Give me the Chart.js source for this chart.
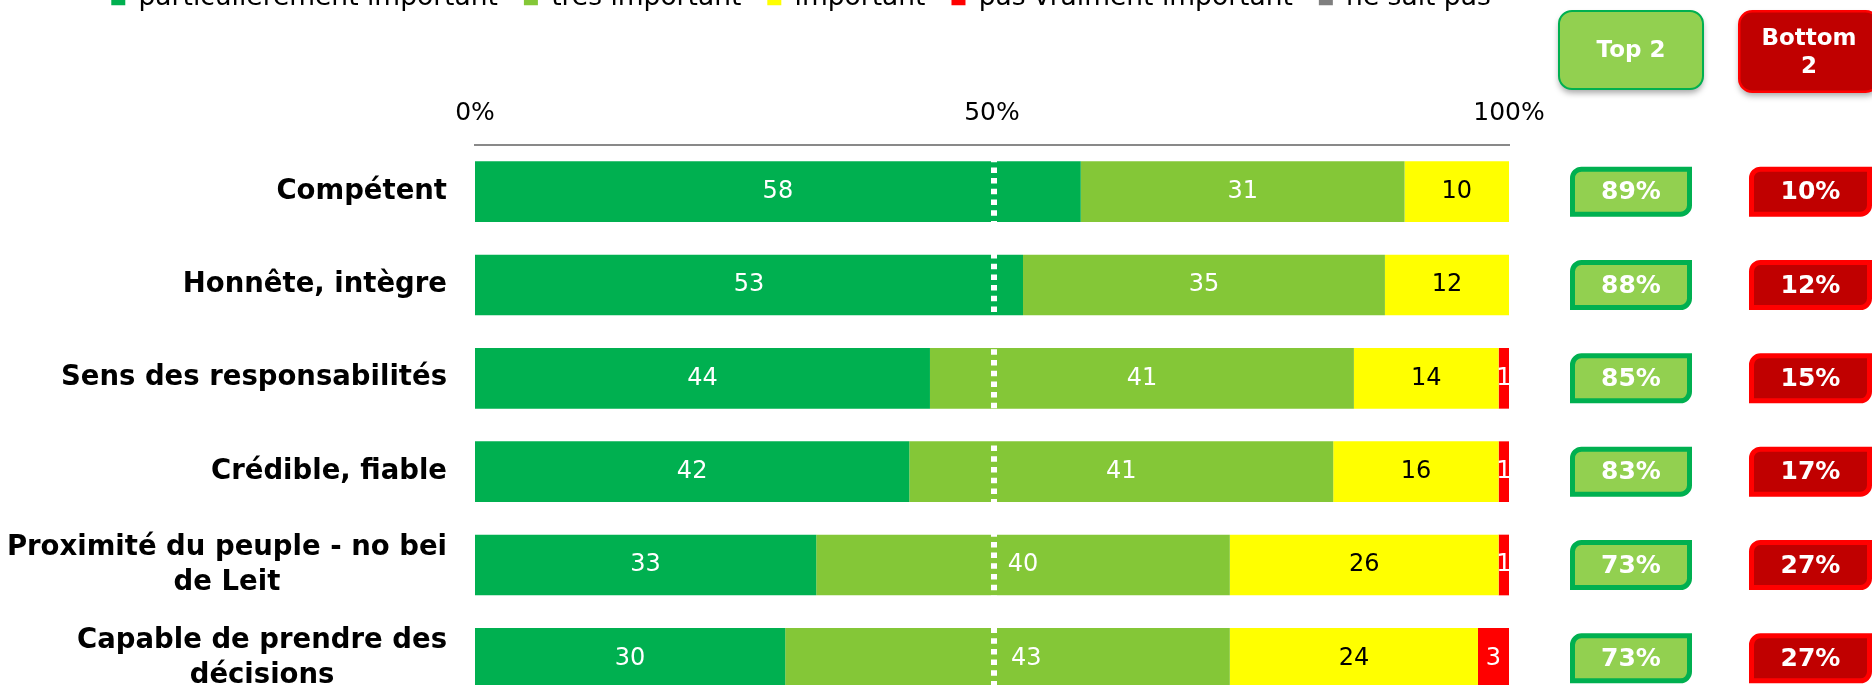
<!DOCTYPE html>
<html>
<head>
<meta charset="utf-8">
<script src="https://cdn.jsdelivr.net/npm/chart.js@4.4.1/dist/chart.umd.min.js"></script>
<style>
  html, body { margin: 0; padding: 0; background: #fff; overflow: hidden; }
  #wrap { position: absolute; left: 0; top: -41px; width: 1872px; height: 746px; }
</style>
</head>
<body>
<div id="wrap"><canvas id="chart"></canvas></div>
<script>
// categories, one entry per printed line
const categories = [
  ["Compétent"],
  ["Honnête, intègre"],
  ["Sens des responsabilités"],
  ["Crédible, fiable"],
  ["Proximité du peuple - no bei", "de Leit"],
  ["Capable de prendre des", "décisions"]
];
const seriesNames = ["particulièrement important", "très important", "important", "pas vraiment important", "ne sait pas"];
const particulierement = [58, 53, 44, 42, 33, 30];
const tresImportant = [31, 35, 41, 41, 40, 43];
const important = [10, 12, 14, 16, 26, 24];
const pasVraiment = [0, 0, 1, 1, 1, 3];
const neSaitPas = [0, 0, 0, 0, 0, 0];
const top2 = [89, 88, 85, 83, 73, 73];
const bottom2 = [10, 12, 15, 17, 27, 27];
const xTicks = [0, 50, 100];
const badgeHeaders = [["Top 2"], ["Bottom", "2"]];

const colors = ["#00B050", "#84C737", "#FFFF00", "#FF0000", "#7F7F7F"];
const FONT = "DejaVu Sans";
const OFF = 41; // canvas is shifted up by this much

// 100% stacked: each row is scaled to its own total
const raw = [particulierement, tresImportant, important, pasVraiment, neSaitPas];
const totals = categories.map((c, i) => raw.reduce((s, arr) => s + arr[i], 0));

const datasets = raw.map((arr, k) => ({
  label: seriesNames[k],
  data: arr.map((v, i) => v / totals[i] * 100),
  rawValues: arr,
  backgroundColor: colors[k],
  borderWidth: 0,
  barPercentage: 0.65,
  categoryPercentage: 1,
  xAxisID: "x",
  yAxisID: "y"
}));

function midX(chart) {
  return chart.scales.x.getPixelForValue(xTicks[1]) + 2;
}

// dashed white line at 50%
const midLine = {
  id: "midLine",
  afterDatasetsDraw(chart) {
    const { ctx, chartArea } = chart;
    const px = midX(chart);
    ctx.save();
    ctx.strokeStyle = "#fff";
    ctx.lineWidth = 6;
    ctx.setLineDash([5.5, 5.2]);
    ctx.lineDashOffset = -1;
    ctx.beginPath();
    ctx.moveTo(px, chartArea.top);
    ctx.lineTo(px, chartArea.bottom);
    ctx.stroke();
    ctx.restore();
  }
};

// numbers inside the segments, nudged off the dashed line
const segLabels = {
  id: "segLabels",
  afterDatasetsDraw(chart) {
    const ctx = chart.ctx;
    const px = midX(chart);
    ctx.save();
    ctx.font = "24px " + FONT;
    ctx.textAlign = "center";
    ctx.textBaseline = "middle";
    chart.data.datasets.forEach((ds, k) => {
      chart.getDatasetMeta(k).data.forEach((bar, i) => {
        const v = ds.rawValues[i];
        if (!v) return;
        const txt = String(v);
        const w = ctx.measureText(txt).width;
        let cx = (bar.x + bar.base) / 2;
        if (cx - w / 2 < px + 10 && cx + w / 2 > px - 10) cx = px + 17 + w / 2;
        ctx.fillStyle = k === 2 ? "#000" : "#fff";
        ctx.fillText(txt, cx, bar.y);
      });
    });
    ctx.restore();
  }
};

// category labels: block right aligned, lines centred inside it
const catLabels = {
  id: "catLabels",
  afterDraw(chart) {
    const { ctx, chartArea, scales } = chart;
    ctx.save();
    ctx.font = "bold 27.5px " + FONT;
    ctx.fillStyle = "#000";
    ctx.textAlign = "center";
    ctx.textBaseline = "middle";
    const right = chartArea.left - 28;
    categories.forEach((lines, i) => {
      const cy = scales.y.getPixelForValue(i);
      const w = Math.max(...lines.map(l => ctx.measureText(l).width));
      lines.forEach((l, j) => {
        ctx.fillText(l, right - w / 2, cy + (j - (lines.length - 1) / 2) * 35);
      });
    });
    ctx.restore();
  }
};

function shape(ctx, x, y, w, h, radii, fill, stroke, lw, shadow) {
  ctx.save();
  if (shadow) {
    ctx.shadowColor = "rgba(0,0,0,0.35)";
    ctx.shadowBlur = 6;
    ctx.shadowOffsetY = 4;
  }
  ctx.beginPath();
  ctx.roundRect(x + lw / 2, y + lw / 2, w - lw, h - lw, radii);
  ctx.fillStyle = fill;
  ctx.fill();
  ctx.shadowColor = "transparent";
  ctx.lineWidth = lw;
  ctx.strokeStyle = stroke;
  ctx.stroke();
  ctx.restore();
}

// Top 2 / Bottom 2 columns
const badges = {
  id: "badges",
  afterDraw(chart) {
    const { ctx, scales } = chart;
    shape(ctx, 1558, 10 + OFF, 146, 80, 13, "#92D050", "#00B050", 2, true);
    shape(ctx, 1738, 10 + OFF, 142, 83, 13, "#C00000", "#FF0000", 2.5, true);
    ctx.save();
    ctx.fillStyle = "#fff";
    ctx.textAlign = "center";
    ctx.textBaseline = "middle";
    ctx.font = "bold 23px " + FONT;
    badgeHeaders[0].forEach(t => ctx.fillText(t, 1631, 51 + OFF));
    badgeHeaders[1].forEach((t, j) => ctx.fillText(t, 1809, 39 + OFF + j * 28));
    ctx.restore();

    categories.forEach((c, i) => {
      const cy = scales.y.getPixelForValue(i);
      shape(ctx, 1570, cy - 25, 122, 50, [9, 0, 9, 0], "#92D050", "#00B050", 5, false);
      shape(ctx, 1749, cy - 25, 123, 50, [9, 0, 9, 0], "#C00000", "#FF0000", 5, false);
      ctx.save();
      ctx.fillStyle = "#fff";
      ctx.textAlign = "center";
      ctx.textBaseline = "middle";
      ctx.font = "bold 25px " + FONT;
      ctx.fillText(top2[i] + "%", 1631, cy + 1);
      ctx.fillText(bottom2[i] + "%", 1810.5, cy + 1);
      ctx.restore();
    });
  }
};

Chart.defaults.font.family = FONT;
const TOP = 145 + OFF; // chart area top in canvas px

new Chart(document.getElementById("chart"), {
  type: "bar",
  data: { labels: categories.map(c => c.join(" ")), datasets: datasets },
  plugins: [midLine, segLabels, catLabels, badges],
  options: {
    indexAxis: "y",
    responsive: true,
    maintainAspectRatio: false,
    animation: false,
    layout: { padding: { left: 0, right: 270, top: 0, bottom: 0 } },
    scales: {
      x: {
        type: "linear",
        position: "top",
        stacked: true,
        min: 0,
        max: 100,
        afterBuildTicks: s => { s.ticks = xTicks.map(v => ({ value: v })); },
        afterFit: s => { s.height = TOP - s.chart.legend.height; },
        ticks: { callback: v => v + "%", color: "#000", font: { size: 25 }, padding: 17 },
        grid: { display: false, drawTicks: false },
        border: { display: true, color: "#898989", width: 2 }
      },
      y: {
        type: "category",
        position: "left",
        stacked: true,
        afterFit: s => { s.width = 475; },
        ticks: { display: false },
        grid: { display: false, drawTicks: false },
        border: { display: false }
      },
      yR: {
        type: "category",
        position: "right",
        afterFit: s => { s.width = 93; },
        ticks: { display: false },
        grid: { display: false, drawTicks: false },
        border: { display: false }
      }
    },
    plugins: {
      tooltip: { enabled: false },
      legend: {
        position: "top",
        align: "center",
        labels: {
          boxWidth: 14,
          boxHeight: 14,
          padding: 26,
          color: "#000",
          font: { size: 26.5 }
        }
      }
    }
  }
});
</script>
</body>
</html>
